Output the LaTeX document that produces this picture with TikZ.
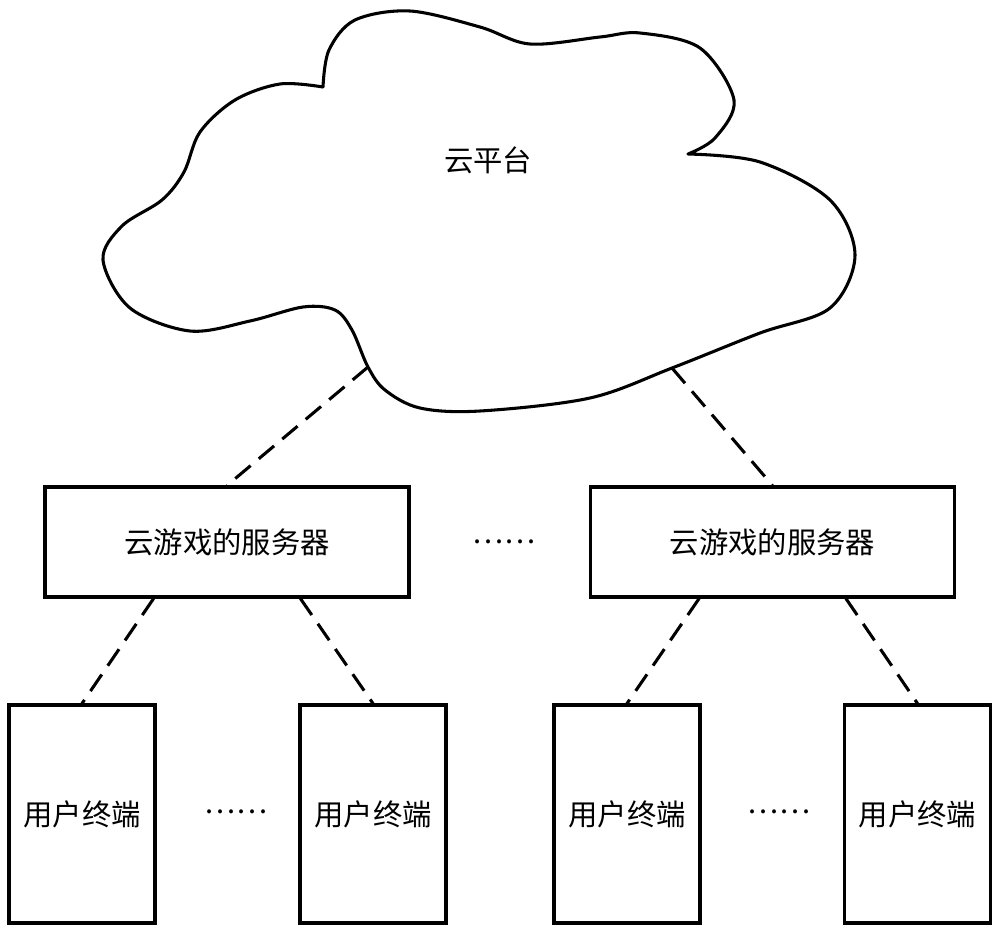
\documentclass[tikz,border=0pt]{standalone}
\usepackage{fontspec}
\setmainfont{Noto Sans CJK SC}
\usetikzlibrary{calc}

\begin{document}
\begin{tikzpicture}[x=0.75pt,y=-0.75pt,
    line width=2.3pt,
    every node/.style={font=\fontsize{22}{26}\selectfont},
    server/.style={draw,rectangle,inner sep=0pt,minimum width=273pt,minimum height=82.5pt},
    terminal/.style={draw,rectangle,inner sep=0pt,minimum width=109.5pt,minimum height=163.5pt},
    link/.style={dash pattern=on 15pt off 8pt}]
\useasboundingbox (0,0) rectangle (1000,933);
%---cloud-------------------------------------------
\draw[line join=round,line cap=round]
    plot[smooth,tension=0.55] coordinates {(323,87) (329,50) (355,20) (410,11) (480,27) (530,44) (600,37) (640,33) (700,48) (734,100) (715,138) (688,154)}
    plot[smooth,tension=0.55] coordinates {(688,154) (760,162) (830,200) (855,255) (830,308) (760,333) (672,368) (590,398) (480,411) (420,408) (385,390) (368,367) (352,330) (335,310) (303,307) (250,321) (190,331) (130,308) (103,260) (122,226) (162,200) (184,172) (200,132) (235,100) (280,84) (323,87)};
\node (cloud) at (488,160) {云平台};
\coordinate (cl) at (368,367);
\coordinate (cr) at (672,368);
%---servers-------------------------------------------
\node[server] (s1) at (227,542) {云游戏的服务器};
\node[server] (s2) at (772.5,542) {云游戏的服务器};
\node (d0) at (504,542) {……};
%---terminals-----------------------------------------
\node[terminal] (t1) at (82,814) {用户终端};
\node[terminal] (t2) at (373,814) {用户终端};
\node[terminal] (t3) at (627,814) {用户终端};
\node[terminal] (t4) at (917.5,814) {用户终端};
\node (d1) at (236,812) {……};
\node (d2) at (779,812) {……};
%---links---------------------------------------------
\draw[link] (cl) -- (s1.north);
\draw[link] (cr) -- (s2.north);
\draw[link] ($(s1.south west)!.3!(s1.south east)$) -- (t1.north);
\draw[link] ($(s1.south west)!.7!(s1.south east)$) -- (t2.north);
\draw[link] ($(s2.south west)!.3!(s2.south east)$) -- (t3.north);
\draw[link] ($(s2.south west)!.7!(s2.south east)$) -- (t4.north);
\end{tikzpicture}
\end{document}
